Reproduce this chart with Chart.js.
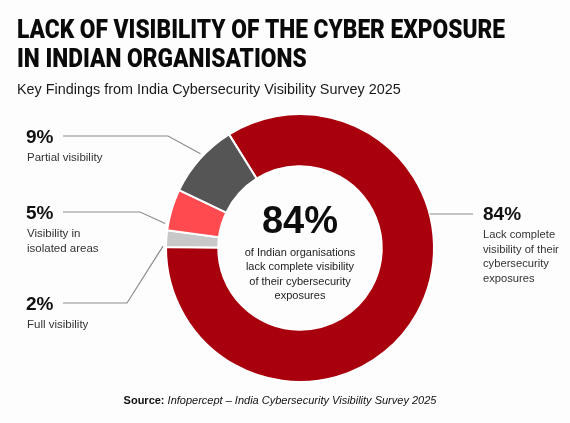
<!DOCTYPE html>
<html>
<head>
<meta charset="utf-8">
<script src="https://cdn.jsdelivr.net/npm/chart.js@4.4.1/dist/chart.umd.min.js"></script>
<style>
html,body{margin:0;padding:0;background:#fdfdfd;}
#wrap{width:570px;height:423px;position:relative;}
</style>
</head>
<body>
<div id="wrap"><canvas id="c" width="570" height="423"></canvas></div>
<script>
const categories = ["Lack complete visibility", "Full visibility", "Visibility in isolated areas", "Partial visibility"];
const values = [84, 2, 5, 9];
const colors = ["#a8000c", "#c8c8c8", "#ff4a50", "#555555"];
const valueLabels = ["84%", "2%", "5%", "9%"];
const labelLines = [
  ["Lack complete", "visibility of their", "cybersecurity", "exposures"],
  ["Full visibility"],
  ["Visibility in", "isolated areas"],
  ["Partial visibility"]
];
const titleLines = ["LACK OF VISIBILITY OF THE CYBER EXPOSURE", "IN INDIAN ORGANISATIONS"];
const subtitle = "Key Findings from India Cybersecurity Visibility Survey 2025";
const centerValue = "84%";
const centerLines = ["of Indian organisations", "lack complete visibility", "of their cybersecurity", "exposures"];
const sourceBold = "Source:";
const sourceText = "Infopercept \u2013 India Cybersecurity Visibility Survey 2025";

const leftLabelY = {3: 136, 2: 212, 1: 303};
const leftElbowX = {3: 168, 2: 140, 1: 127};
const leaderFrac = {3: 0.55, 2: 0.15, 1: 0.05};
const SANS = "'Liberation Sans', Arial, sans-serif";

const textPlugin = {
  id: 'texts',
  afterDraw(chart) {
    const ctx = chart.ctx;
    const meta = chart.getDatasetMeta(0);
    const arc0 = meta.data[0];
    const cx = arc0.x, cy = arc0.y, R = arc0.outerRadius;
    ctx.save();
    // title (condensed by horizontal scale)
    ctx.fillStyle = "#0a0a0a";
    ctx.textBaseline = "alphabetic";
    ctx.textAlign = "left";
    ctx.font = "900 25px Roboto, 'Liberation Sans', sans-serif";
    const tw = ctx.measureText(titleLines[0]).width;
    const sc = 488 / tw;
    ctx.save();
    ctx.translate(17, 0);
    ctx.scale(sc, 1);
    ctx.fillText(titleLines[0], 0, 38);
    ctx.fillText(titleLines[1], 0, 67);
    ctx.restore();
    ctx.fillStyle = "#1a1a1a";
    ctx.font = "14.4px " + SANS;
    ctx.fillText(subtitle, 17, 94);

    // leader lines + left labels
    ctx.strokeStyle = "#8c8c8c";
    ctx.lineWidth = 1.2;
    [3, 2, 1].forEach(i => {
      const a = meta.data[i];
      const ang = a.startAngle + (a.endAngle - a.startAngle) * leaderFrac[i];
      const ex = cx + Math.cos(ang) * (R + 3);
      const ey = cy + Math.sin(ang) * (R + 3);
      const y = leftLabelY[i];
      ctx.beginPath();
      ctx.moveTo(63, y);
      ctx.lineTo(leftElbowX[i], y);
      ctx.lineTo(ex, ey);
      ctx.stroke();
      ctx.fillStyle = "#111";
      ctx.textBaseline = "middle";
      ctx.font = "bold 19px " + SANS;
      ctx.fillText(valueLabels[i], 26, y + 2);
      ctx.fillStyle = "#333";
      ctx.font = "11.5px " + SANS;
      labelLines[i].forEach((t, k) => ctx.fillText(t, 27, y + 22 + k * 14.4));
    });
    // right label
    const ry = 214;
    const rx0 = cx + Math.sqrt(R * R - (ry - cy) * (ry - cy));
    ctx.beginPath();
    ctx.moveTo(rx0, ry);
    ctx.lineTo(473, ry);
    ctx.stroke();
    ctx.fillStyle = "#111";
    ctx.font = "bold 19px " + SANS;
    ctx.fillText(valueLabels[0], 483, ry + 1);
    ctx.fillStyle = "#333";
    ctx.font = "11.2px " + SANS;
    labelLines[0].forEach((t, k) => ctx.fillText(t, 483, ry + 21 + k * 14.5));

    // center
    ctx.textAlign = "center";
    ctx.fillStyle = "#0d0d0d";
    ctx.font = "bold 38px " + SANS;
    ctx.fillText(centerValue, cx, cy - 25);
    ctx.fillStyle = "#222";
    ctx.font = "11px " + SANS;
    centerLines.forEach((t, k) => ctx.fillText(t, cx, cy + 5 + k * 14.4));

    // source
    ctx.textAlign = "left";
    ctx.font = "bold 11px " + SANS;
    const w1 = ctx.measureText(sourceBold + " ").width;
    ctx.font = "italic 11px " + SANS;
    const w2 = ctx.measureText(sourceText).width;
    const sx = 280 - (w1 + w2) / 2;
    ctx.fillStyle = "#111";
    ctx.font = "bold 11px " + SANS;
    ctx.fillText(sourceBold, sx, 401);
    ctx.font = "italic 11px " + SANS;
    ctx.fillText(sourceText, sx + w1, 401);
    ctx.restore();
  }
};

new Chart(document.getElementById('c'), {
  type: 'doughnut',
  data: {
    labels: categories,
    datasets: [{
      data: values,
      backgroundColor: colors,
      borderColor: "#ffffff",
      borderWidth: 2,
      hoverOffset: 0
    }]
  },
  options: {
    responsive: false,
    animation: false,
    rotation: -32,
    cutout: '61%',
    layout: { padding: { left: 165, right: 135, top: 113, bottom: 40 } },
    plugins: { legend: { display: false }, tooltip: { enabled: false } }
  },
  plugins: [textPlugin]
});
</script>
</body>
</html>
